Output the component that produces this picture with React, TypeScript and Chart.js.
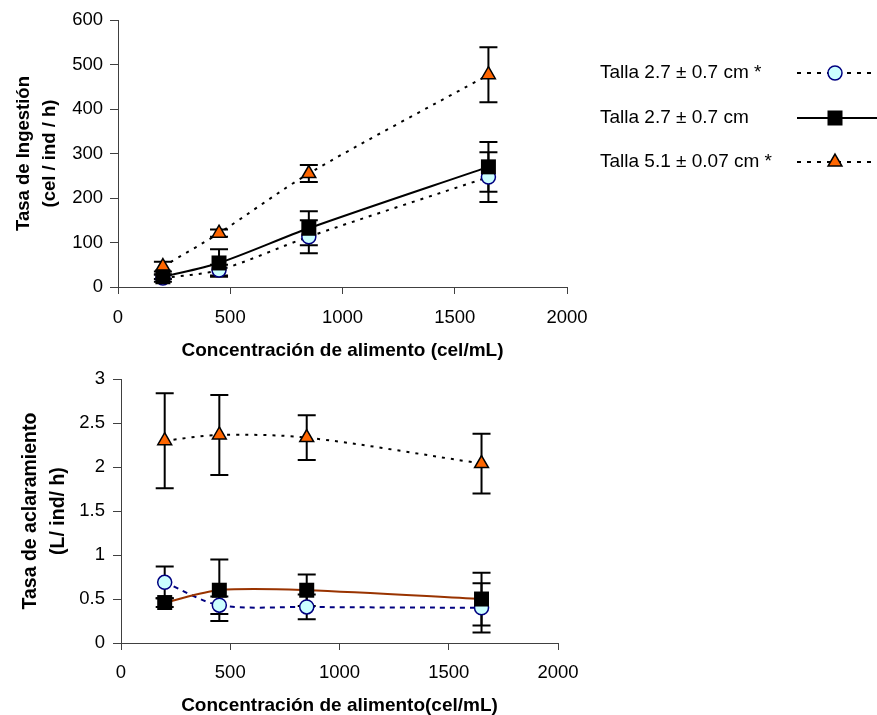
import React, { useEffect, useRef } from "react";
import { Chart, registerables } from "chart.js";

Chart.register(...registerables);

const FONT = "'Liberation Sans', Arial, sans-serif";

// Shared x categories (food concentration, cel/mL)
const xValues = [200, 450, 850, 1650];
const xTicks = [0, 500, 1000, 1500, 2000];

const legendLabels = ["Talla 2.7 ± 0.7 cm *", "Talla 2.7 ± 0.7 cm", "Talla 5.1 ± 0.07 cm *"];

// Top panel: ingestion rate (cel / ind / h)
const ingestYTicks = [0, 100, 200, 300, 400, 500, 600];
const ingestSmallStar = [20, 38, 113, 247];
const ingestSmallStarErr = [8, 12, 37, 56];
const ingestSmall = [23, 54, 132, 270];
const ingestSmallErr = [5, 31, 38, 56];
const ingestLarge = [46, 121, 255, 477];
const ingestLargeErr = [11, 8, 19, 62];

// Bottom panel: clearance rate (L / ind / h)
const clearYTicks = [0, 0.5, 1, 1.5, 2, 2.5, 3];
const clearSmallStar = [0.69, 0.43, 0.41, 0.4];
const clearSmallStarErr = [0.18, 0.1, 0.14, 0.28];
const clearSmall = [0.46, 0.6, 0.6, 0.5];
const clearSmallErr = [0.05, 0.35, 0.18, 0.3];
const clearLarge = [2.3, 2.365, 2.335, 2.04];
const clearLargeErr = [0.54, 0.455, 0.255, 0.34];

const AXIS_COLOR = "#404040";
const CYAN = "#CCFFFF";
const NAVY = "#000080";
const ORANGE = "#FF6600";
const BROWN = "#993300";

const toPoints = (ys: number[]) => xValues.map((x, i) => ({ x, y: ys[i] }));

const errorBarPlugin = {
  id: "errorBars",
  beforeDatasetsDraw(chart: any) {
    const ctx = chart.ctx;
    const xs = chart.scales.x;
    const ys = chart.scales.y;
    ctx.save();
    ctx.strokeStyle = "#000";
    ctx.lineWidth = 2;
    ctx.setLineDash([]);
    chart.data.datasets.forEach((ds: any) => {
      const errs: number[] = ds.errors;
      if (!errs) return;
      ds.data.forEach((p: any, i: number) => {
        const e = errs[i];
        const x = xs.getPixelForValue(p.x);
        const y1 = ys.getPixelForValue(p.y + e);
        const y2 = ys.getPixelForValue(p.y - e);
        ctx.beginPath();
        ctx.moveTo(x, y1);
        ctx.lineTo(x, y2);
        ctx.moveTo(x - 9, y1);
        ctx.lineTo(x + 9, y1);
        ctx.moveTo(x - 9, y2);
        ctx.lineTo(x + 9, y2);
        ctx.stroke();
      });
    });
    ctx.restore();
  },
};

const legendPlugin = {
  id: "sideLegend",
  afterDraw(chart: any) {
    const ctx = chart.ctx;
    const rows = [73, 118, 162];
    ctx.save();
    ctx.font = `19px ${FONT}`;
    ctx.fillStyle = "#000";
    ctx.textBaseline = "middle";
    ctx.textAlign = "left";
    legendLabels.forEach((label, i) => {
      const y = rows[i];
      ctx.fillText(label, 600, y);
      ctx.strokeStyle = "#000";
      ctx.lineWidth = 2;
      ctx.setLineDash(i === 1 ? [] : [4, 6]);
      ctx.beginPath();
      ctx.moveTo(797, y);
      ctx.lineTo(877, y);
      ctx.stroke();
      ctx.setLineDash([]);
      const cx = 835;
      if (i === 0) {
        ctx.beginPath();
        ctx.arc(cx, y, 7, 0, Math.PI * 2);
        ctx.fillStyle = CYAN;
        ctx.fill();
        ctx.lineWidth = 1.5;
        ctx.strokeStyle = NAVY;
        ctx.stroke();
      } else if (i === 1) {
        ctx.fillStyle = "#000";
        ctx.fillRect(cx - 7.5, y - 7.5, 15, 15);
      } else {
        const r = 8;
        ctx.beginPath();
        ctx.moveTo(cx, y - r);
        ctx.lineTo(cx + r * Math.sin((2 * Math.PI) / 3), y - r * Math.cos((2 * Math.PI) / 3));
        ctx.lineTo(cx + r * Math.sin((4 * Math.PI) / 3), y - r * Math.cos((4 * Math.PI) / 3));
        ctx.closePath();
        ctx.fillStyle = ORANGE;
        ctx.fill();
        ctx.lineWidth = 1.5;
        ctx.strokeStyle = "#000";
        ctx.stroke();
      }
      ctx.fillStyle = "#000";
    });
    ctx.restore();
  },
};

type PanelOpts = {
  datasets: any[];
  yTicks: number[];
  yMax: number;
  xTitle: string;
  yTitle: string[];
  yTitleSize: number;
  yTitleLineHeight: number;
  yTitlePadTop: number;
  padTop: number;
  padRight: number;
  yWidth: number;
  xHeight: number;
  xTickPad: number;
  yTickPad: number;
  plugins: any[];
};

function buildConfig(o: PanelOpts): any {
  return {
    type: "line",
    data: { datasets: o.datasets },
    plugins: o.plugins,
    options: {
      responsive: false,
      animation: false,
      devicePixelRatio: 1,
      layout: { padding: { left: 0, top: o.padTop, right: o.padRight, bottom: 0 } },
      plugins: { legend: { display: false }, tooltip: { enabled: false } },
      scales: {
        x: {
          type: "linear",
          min: 0,
          max: 2000,
          afterBuildTicks: (s: any) => {
            s.ticks = xTicks.map((v) => ({ value: v }));
          },
          afterFit: (s: any) => {
            s.height = o.xHeight;
          },
          ticks: {
            callback: (v: any) => String(v),
            font: { family: FONT, size: 18.5 },
            color: "#000",
            padding: o.xTickPad,
            maxRotation: 0,
            autoSkip: false,
          },
          grid: { drawOnChartArea: false, drawTicks: true, tickLength: 7, color: AXIS_COLOR, lineWidth: 1 },
          border: { display: true, color: AXIS_COLOR, width: 1 },
          title: {
            display: true,
            text: o.xTitle,
            color: "#000",
            font: { family: FONT, size: 19, weight: "bold", lineHeight: 1.0 },
            padding: { top: 0, bottom: 0 },
          },
        },
        y: {
          type: "linear",
          min: 0,
          max: o.yMax,
          afterBuildTicks: (s: any) => {
            s.ticks = o.yTicks.map((v) => ({ value: v }));
          },
          afterFit: (s: any) => {
            s.width = o.yWidth;
          },
          ticks: {
            callback: (v: any) => String(v),
            font: { family: FONT, size: 18.5 },
            color: "#000",
            padding: o.yTickPad,
            autoSkip: false,
          },
          grid: { drawOnChartArea: false, drawTicks: true, tickLength: 8, color: AXIS_COLOR, lineWidth: 1 },
          border: { display: true, color: AXIS_COLOR, width: 1 },
          title: {
            display: true,
            text: o.yTitle,
            color: "#000",
            font: { family: FONT, size: o.yTitleSize, weight: "bold", lineHeight: o.yTitleLineHeight },
            padding: { top: o.yTitlePadTop, bottom: 0 },
          },
        },
      },
    },
  };
}

function circleDs(ys: number[], errs: number[], lineColor: string, dash: number[]) {
  return {
    label: legendLabels[0],
    data: toPoints(ys),
    errors: errs,
    order: 1,
    borderColor: lineColor,
    borderWidth: 2,
    borderDash: dash,
    tension: 0.3,
    pointStyle: "circle",
    pointRadius: 7,
    pointBackgroundColor: CYAN,
    pointBorderColor: NAVY,
    pointBorderWidth: 1.5,
    clip: false,
  };
}

function squareDs(ys: number[], errs: number[], lineColor: string) {
  return {
    label: legendLabels[1],
    data: toPoints(ys),
    errors: errs,
    order: 0,
    borderColor: lineColor,
    borderWidth: 2,
    tension: 0.3,
    pointStyle: "rect",
    pointRadius: 10.6,
    pointBackgroundColor: "#000",
    pointBorderColor: "#000",
    pointBorderWidth: 0,
    clip: false,
  };
}

function triangleDs(ys: number[], errs: number[]) {
  return {
    label: legendLabels[2],
    data: toPoints(ys),
    errors: errs,
    order: 2,
    borderColor: "#000",
    borderWidth: 2,
    borderDash: [3, 6],
    tension: 0.3,
    pointStyle: "triangle",
    pointRadius: 8,
    pointBackgroundColor: ORANGE,
    pointBorderColor: "#000",
    pointBorderWidth: 1.5,
    clip: false,
  };
}

export default function App() {
  const topRef = useRef<HTMLCanvasElement>(null);
  const bottomRef = useRef<HTMLCanvasElement>(null);

  useEffect(() => {
    const top = new Chart(
      topRef.current as HTMLCanvasElement,
      buildConfig({
        datasets: [
          circleDs(ingestSmallStar, ingestSmallStarErr, "#000", [3, 6]),
          squareDs(ingestSmall, ingestSmallErr, "#000"),
          triangleDs(ingestLarge, ingestLargeErr),
        ],
        yTicks: ingestYTicks,
        yMax: 600,
        xTitle: "Concentración de alimento (cel/mL)",
        yTitle: ["Tasa de Ingestión", "(cel / ind / h)"],
        yTitleSize: 18.5,
        yTitleLineHeight: 1.45,
        yTitlePadTop: 10,
        padTop: 20,
        padRight: 877 - 567,
        yWidth: 118,
        xHeight: 360 - 287,
        xTickPad: 13,
        yTickPad: 7,
        plugins: [errorBarPlugin, legendPlugin],
      })
    );
    const bottom = new Chart(
      bottomRef.current as HTMLCanvasElement,
      buildConfig({
        datasets: [
          circleDs(clearSmallStar, clearSmallStarErr, NAVY, [5, 5]),
          squareDs(clearSmall, clearSmallErr, BROWN),
          triangleDs(clearLarge, clearLargeErr),
        ],
        yTicks: clearYTicks,
        yMax: 3,
        xTitle: "Concentración de alimento(cel/mL)",
        yTitle: ["Tasa de aclaramiento", "(L/ ind/ h)"],
        yTitleSize: 19.5,
        yTitleLineHeight: 1.44,
        yTitlePadTop: 17,
        padTop: 18,
        padRight: 877 - 558,
        yWidth: 121,
        xHeight: 355 - 283,
        xTickPad: 12,
        yTickPad: 8,
        plugins: [errorBarPlugin],
      })
    );
    return () => {
      top.destroy();
      bottom.destroy();
    };
  }, []);

  return (
    <div
      style={{
        position: "fixed",
        left: 0,
        top: 0,
        width: 877,
        height: 715,
        background: "#fff",
        overflow: "hidden",
      }}
    >
      <canvas
        ref={topRef}
        width={877}
        height={360}
        style={{ position: "absolute", left: 0, top: 0, width: 877, height: 360, display: "block" }}
      />
      <canvas
        ref={bottomRef}
        width={877}
        height={355}
        style={{ position: "absolute", left: 0, top: 360, width: 877, height: 355, display: "block" }}
      />
    </div>
  );
}
